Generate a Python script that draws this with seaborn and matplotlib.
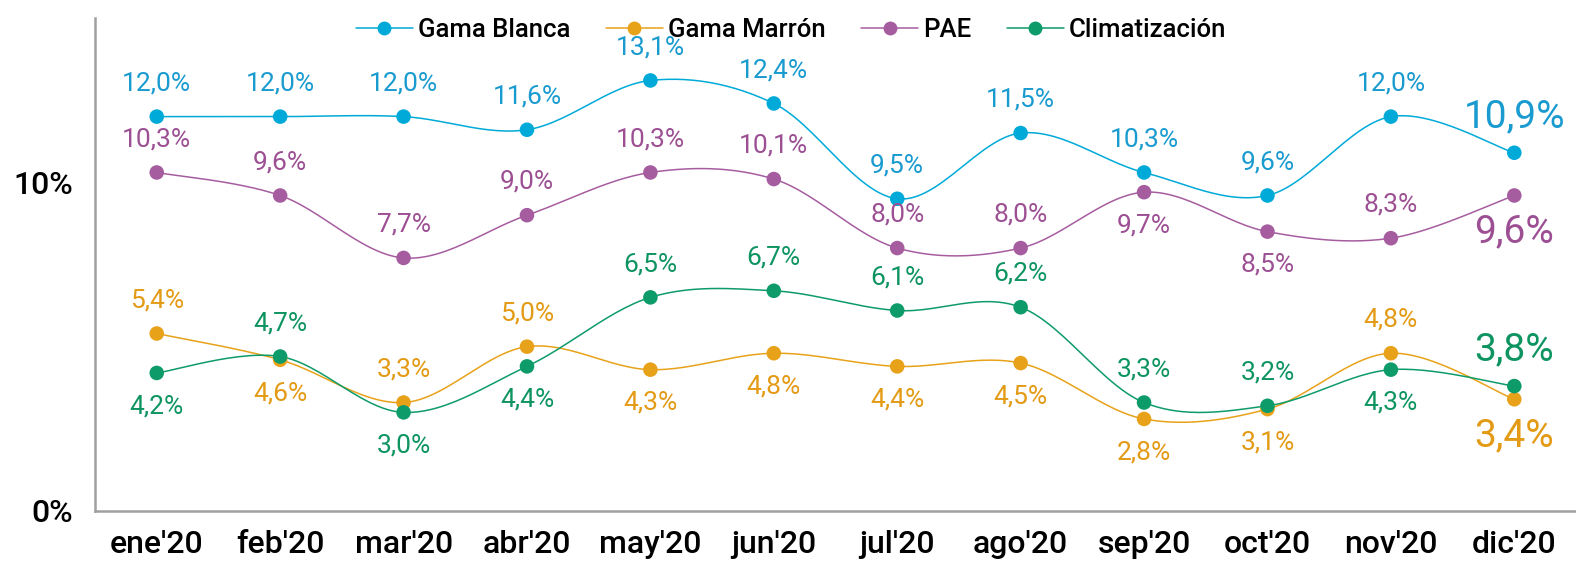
import numpy as np
import pandas as pd
import seaborn as sns
import matplotlib.pyplot as plt
from matplotlib.lines import Line2D

months = ["ene'20", "feb'20", "mar'20", "abr'20", "may'20", "jun'20",
          "jul'20", "ago'20", "sep'20", "oct'20", "nov'20", "dic'20"]

gama_blanca = [12.0, 12.0, 12.0, 11.6, 13.1, 12.4, 9.5, 11.5, 10.3, 9.6, 12.0, 10.9]
gama_marron = [5.4, 4.6, 3.3, 5.0, 4.3, 4.8, 4.4, 4.5, 2.8, 3.1, 4.8, 3.4]
pae = [10.3, 9.6, 7.7, 9.0, 10.3, 10.1, 8.0, 8.0, 9.7, 8.5, 8.3, 9.6]
climatizacion = [4.2, 4.7, 3.0, 4.4, 6.5, 6.7, 6.1, 6.2, 3.3, 3.2, 4.3, 3.8]

# label side: 1 above, -1 below
pos_blanca = [1] * 12
pos_marron = [1, -1, 1, 1, -1, -1, -1, -1, -1, -1, 1, -1]
pos_pae = [1, 1, 1, 1, 1, 1, 1, 1, -1, -1, 1, -1]
pos_clim = [-1, 1, -1, -1, 1, 1, 1, 1, 1, 1, -1, 1]

series = [
    ("Gama Blanca", gama_blanca, pos_blanca, "#00AAD8", "#1A9BD0"),
    ("Gama Marrón", gama_marron, pos_marron, "#E8A21A", "#E39A14"),
    ("PAE", pae, pos_pae, "#A65DA0", "#9C4F93"),
    ("Climatización", climatizacion, pos_clim, "#0E9B6A", "#0E9461"),
]


def smooth(y, n=30):
    # Excel-like smoothed line (Catmull-Rom as Bezier segments)
    x = np.arange(len(y), dtype=float)
    y = np.asarray(y, dtype=float)
    pts = np.column_stack([x, y])
    out = []
    for i in range(len(pts) - 1):
        p0 = pts[max(i - 1, 0)]
        p1 = pts[i]
        p2 = pts[i + 1]
        p3 = pts[min(i + 2, len(pts) - 1)]
        c1 = p1 + (p2 - p0) / 6
        c2 = p2 - (p3 - p1) / 6
        t = np.linspace(0, 1, n)[:, None]
        seg = ((1 - t) ** 3) * p1 + 3 * ((1 - t) ** 2) * t * c1 + 3 * (1 - t) * t ** 2 * c2 + t ** 3 * p2
        out.append(seg if i == 0 else seg[1:])
    return np.vstack(out)


sns.set_style("white")
plt.rcParams["font.family"] = ["Roboto", "DejaVu Sans"]

fig = plt.figure(figsize=(15.76, 5.63), dpi=100)
ax = fig.add_axes([0.0603, 0.0924, 0.9397, 0.8756])

x = np.arange(len(months))
for name, vals, pos, lc, tc in series:
    curve = smooth(vals)
    sns.lineplot(x=curve[:, 0], y=curve[:, 1], ax=ax, color=lc, lw=1.1, sort=False)
    sns.scatterplot(x=x, y=vals, ax=ax, color=lc, s=110, edgecolor="none", zorder=3)
    for i, (v, p) in enumerate(zip(vals, pos)):
        big = i == len(vals) - 1
        txt = f"{v:.1f}%".replace(".", ",")
        ax.annotate(txt, (i, v), xytext=(0, p * (26 if big else 24)), textcoords="offset points",
                    ha="center", va="center", color=tc, fontsize=28 if big else 19)

ax.set_xlim(-0.5, 11.5)
ax.set_ylim(0, 15)
ax.set_yticks([0, 10])
ax.set_yticklabels(["0%", "10%"], fontsize=23, fontweight="medium", color="black")
ax.set_xticks(np.arange(-0.5, 12, 1))
ax.set_xticklabels([])
ax.set_xticks(x, minor=True)
ax.set_xticklabels(months, minor=True, fontsize=23, fontweight="medium", color="black")
ax.tick_params(axis="x", which="major", length=8, width=1.5, color="#A0A0A0", direction="out")
ax.tick_params(axis="x", which="minor", length=0, pad=14)
ax.tick_params(axis="y", length=8, width=1.5, color="#A0A0A0", direction="out", pad=8)
ax.set_xlabel("")
ax.set_ylabel("")

for s in ["top", "right"]:
    ax.spines[s].set_visible(False)
for s in ["left", "bottom"]:
    ax.spines[s].set_color("#A0A0A0")
    ax.spines[s].set_linewidth(1.8)

handles = [Line2D([0], [0], color=lc, lw=1.1, marker="o", markersize=10, markeredgewidth=0)
           for _, _, _, lc, _ in series]
labels = [name for name, _, _, _, _ in series]
leg = ax.legend(handles, labels, loc="center", bbox_to_anchor=(0.47, 0.975), ncol=4, frameon=False,
                prop={"size": 18.5, "weight": "medium"}, handlelength=2.2, columnspacing=1.4,
                handletextpad=0.2)
for t in leg.get_texts():
    t.set_color("black")

fig.savefig("out.png", dpi=100)
